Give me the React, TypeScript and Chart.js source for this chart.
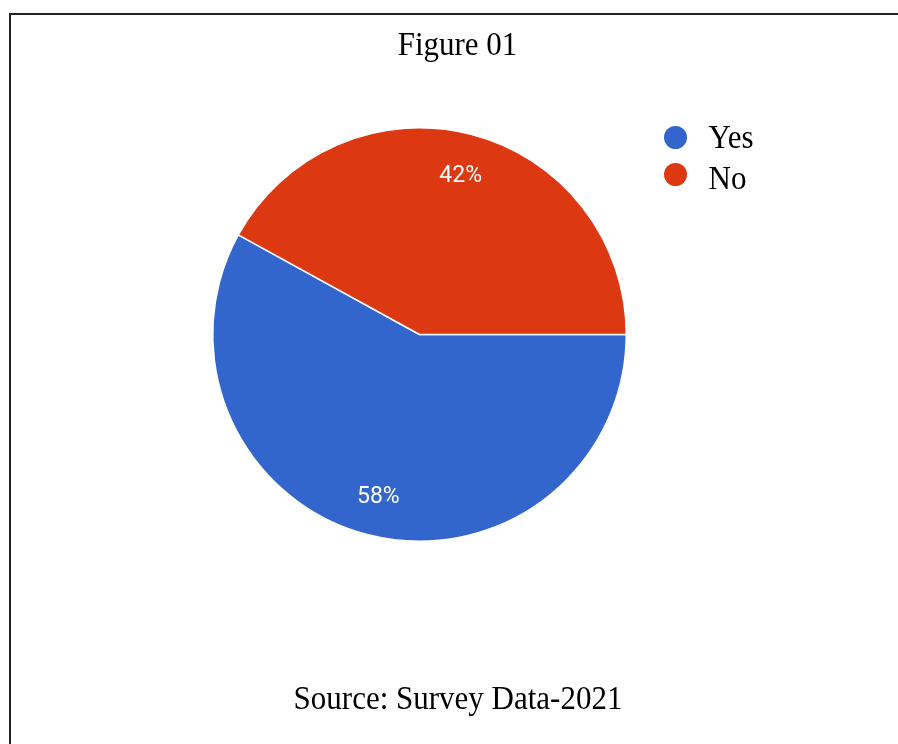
import React, { useEffect, useRef } from 'react';
import { Chart, registerables } from 'chart.js';

Chart.register(...registerables);

const categories = ['Yes', 'No'];
const values = [58, 42];
const colors = ['#3366CC', '#DC3912'];
const titleText = 'Figure 01';
const sourceText = 'Source: Survey Data-2021';

const W = 898;
const H = 744;
const SERIF = '"Liberation Serif", "Times New Roman", Times, serif';

const pctPlugin = {
  id: 'pctLabels',
  afterDatasetsDraw(chart: any) {
    const ctx = chart.ctx;
    const meta = chart.getDatasetMeta(0);
    const data = chart.data.datasets[0].data as number[];
    const total = data.reduce((a, b) => a + b, 0);
    const fs = 23;
    ctx.save();
    ctx.font = `${fs}px Roboto, Arial, sans-serif`;
    ctx.fillStyle = '#ffffff';
    ctx.textAlign = 'center';
    ctx.textBaseline = 'alphabetic';
    meta.data.forEach((arc: any, i: number) => {
      const p = arc.getProps(['x', 'y', 'startAngle', 'endAngle', 'outerRadius'], true);
      const mid = (p.startAngle + p.endAngle) / 2;
      const r = p.outerRadius * 0.8;
      const px = p.x + Math.cos(mid) * r;
      const py = p.y + Math.sin(mid) * r;
      ctx.fillText(Math.round((data[i] / total) * 100) + '%', px, py + (fs * 0.711) / 2);
    });
    ctx.restore();
  },
};

function SerifText({ text, left, baseline, center }: { text: string; left: number; baseline: number; center?: boolean }) {
  const fs = 31;
  const style: React.CSSProperties = {
    position: 'absolute',
    top: baseline - 26,
    fontFamily: SERIF,
    fontSize: fs,
    lineHeight: `${fs}px`,
    color: '#000',
    whiteSpace: 'nowrap',
    transform: 'scaleY(1.07)',
    transformOrigin: '50% 26px',
  };
  if (center) {
    style.left = left - 300;
    style.width = 600;
    style.textAlign = 'center';
  } else {
    style.left = left;
  }
  return <div style={style}>{text}</div>;
}

export default function App() {
  const canvasRef = useRef<HTMLCanvasElement | null>(null);

  useEffect(() => {
    if (!canvasRef.current) return;
    const chart = new Chart(canvasRef.current, {
      type: 'pie',
      data: {
        labels: categories,
        datasets: [
          {
            data: values,
            backgroundColor: colors,
            borderColor: '#ffffff',
            borderWidth: 1.5,
          },
        ],
      },
      options: {
        responsive: false,
        animation: false,
        devicePixelRatio: 1,
        rotation: 90,
        layout: { padding: { left: 212, top: 127, right: W - 627, bottom: H - 542 } },
        plugins: {
          legend: { display: false },
          title: { display: false },
          tooltip: { enabled: false },
        },
      } as any,
      plugins: [pctPlugin as any],
    });
    return () => chart.destroy();
  }, []);

  const dot = (color: string, cx: number, cy: number) => (
    <div
      style={{
        position: 'absolute',
        left: cx - 11.5,
        top: cy - 11.5,
        width: 23,
        height: 23,
        borderRadius: '50%',
        background: color,
      }}
    />
  );

  return (
    <div style={{ position: 'fixed', left: 0, top: 0, width: W, height: H, overflow: 'hidden', background: '#fff' }}>
      <div
        style={{
          position: 'absolute',
          left: 9,
          top: 13,
          width: 2000,
          height: 2000,
          border: '2px solid #222',
        }}
      />
      <canvas ref={canvasRef} width={W} height={H} style={{ position: 'absolute', left: 0, top: 0, display: 'block' }} />
      <SerifText text={titleText} left={457.5} baseline={55} center />
      <SerifText text={sourceText} left={458} baseline={709} center />
      {dot(colors[0], 675, 137)}
      {dot(colors[1], 675, 174.5)}
      <SerifText text={categories[0]} left={708.5} baseline={147.5} />
      <SerifText text={categories[1]} left={708.5} baseline={188.5} />
    </div>
  );
}
